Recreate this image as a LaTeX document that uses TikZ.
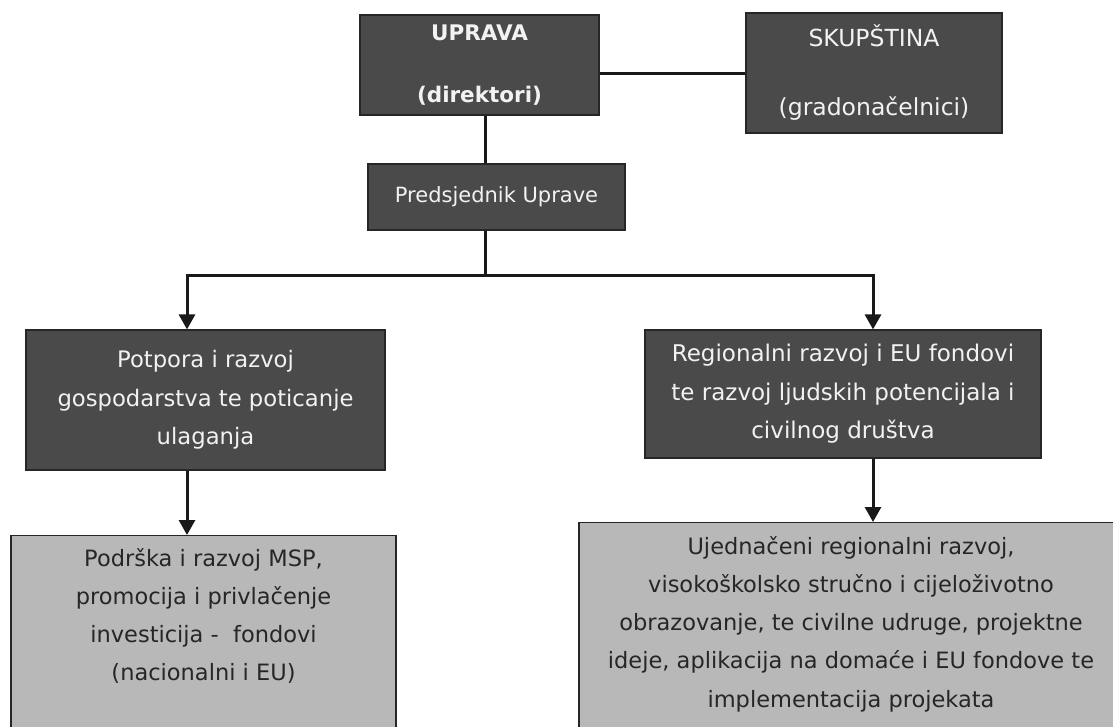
\documentclass[tikz,border=0pt]{standalone}
\usepackage{fontspec}
\setmainfont{DejaVu Sans}
\usetikzlibrary{arrows.meta}

\begin{document}
\begin{tikzpicture}
      [%%%%%%%%%%%%%%%%%%%%%%%%%%%%%%
      x=1pt,y=-1pt,
      darkbox/.style={rectangle,draw=black!85,line width=1.2pt,fill=black!71,text=white!95!black,align=center,inner sep=0pt},
      lightbox/.style={rectangle,draw=black!85,line width=1.2pt,fill=black!28,inner sep=0pt},
      lighttext/.style={text=black!85,align=center,font=\fontsize{22.5}{38.3}\selectfont},
      conn/.style={line width=3pt,draw=black!90},
      arr/.style={conn,-{Triangle[width=16pt,length=15pt]}},
      ]%%%%%%%%%%%%%%%%%%%%%%%%%%%%%%

      \clip (0,0) rectangle (1113,726);

      \node[darkbox,minimum width=239pt,minimum height=100pt,font=\bfseries\fontsize{21.5}{62}\selectfont] (uprava) at (479.5,65) {UPRAVA\\(direktori)};
      \node[darkbox,minimum width=256pt,minimum height=120pt,font=\fontsize{23.5}{69}\selectfont] (skupstina) at (874,73) {SKUPŠTINA\\(gradonačelnici)};
      \node[darkbox,minimum width=257pt,minimum height=66pt,font=\fontsize{21}{25}\selectfont] (predsjednik) at (496.5,197) {Predsjednik Uprave};

      \node[darkbox,minimum width=359pt,minimum height=140pt,font=\fontsize{22.7}{38.5}\selectfont] (potpora) at (205.5,400) {Potpora i razvoj\\gospodarstva te poticanje\\ulaganja};
      \node[darkbox,minimum width=396pt,minimum height=128pt,font=\fontsize{23}{38.5}\selectfont] (regionalni) at (843,394) {Regionalni razvoj i EU fondovi\\te razvoj ljudskih potencijala i\\civilnog društva};

      \node[lightbox,minimum width=385pt,minimum height=210pt,anchor=north] (podrska) at (203.5,535) {};
      \node[lighttext] (podrskatekst) at (203.5,616) {Podrška i razvoj MSP,\\promocija i privlačenje\\investicija -\ \ fondovi\\(nacionalni i EU)};
      \node[lightbox,minimum width=546pt,minimum height=220pt,anchor=north] (ujednaceni) at (852,522) {};
      \node[lighttext] (ujednacenitekst) at (851,624) {Ujednačeni regionalni razvoj,\\visokoškolsko stručno i cijeloživotno\\obrazovanje, te civilne udruge, projektne\\ideje, aplikacija na domaće i EU fondove te\\implementacija projekata};

      % veze
      \coordinate (grana) at (485,275);
      \coordinate (lijevo) at (187,275);
      \coordinate (desno) at (873,275);
      \draw[conn] (skupstina.west) -- (skupstina.west -| uprava.east);
      \draw[conn] (grana |- uprava.south) -- (grana |- predsjednik.north);
      \draw[conn] (grana |- predsjednik.south) -- (grana);
      \draw[arr] (grana) -- (lijevo) -- (lijevo |- potpora.north);
      \draw[arr] (grana) -- (desno) -- (desno |- regionalni.north);
      \draw[arr] (lijevo |- potpora.south) -- (lijevo |- podrska.north);
      \draw[arr] (desno |- regionalni.south) -- (desno |- ujednaceni.north);
    \end{tikzpicture}
\end{document}
